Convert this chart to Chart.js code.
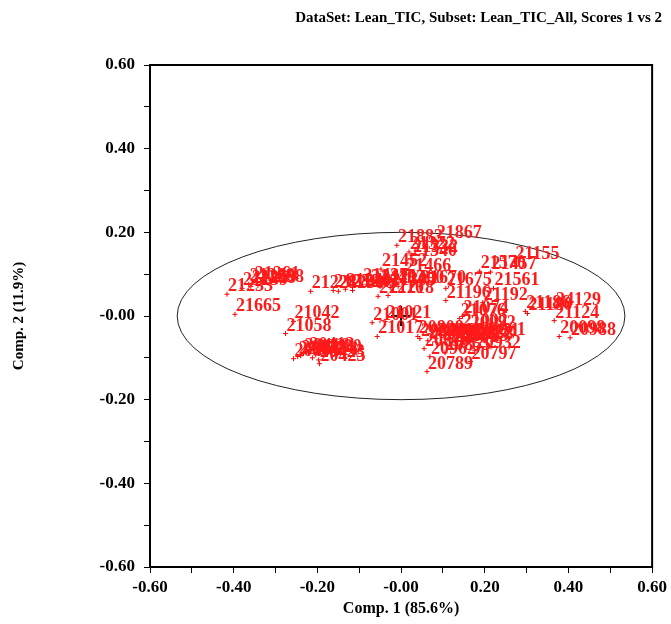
<!DOCTYPE html>
<html><head><meta charset="utf-8">
<script src="https://cdn.jsdelivr.net/npm/chart.js@4.4.0/dist/chart.umd.min.js"></script>
<style>html,body{margin:0;padding:0;background:#fff;}</style>
</head><body>
<canvas id="c" width="671" height="624"></canvas>
<script>
// ---- data ----
const sampleLabels = [
  '21883','21867','21322','21332','21340','21452','21466','21155','21570','21457',
  '21670','21675','21561','21196','21192','24129','21186','21180','21124','20098',
  '20988','21076','21074','21002','20092','20808','20800','20846','20861','20872',
  '20883','20901','20912','20925','20938','20951','20961','20932','20962','20797',
  '20789','20816','20855','21001','21021','21017','21228','21236','21238','21240',
  '21245','21437','21440','21183','21305','21400','21210','21218','21233','21239',
  '21260','21261','21258','21259','21665','21042','21058','20401','20402','20410',
  '20412','20416','20418','20420','20423','20425'
];
const comp1Scores = [
  -0.010, 0.083, 0.019, 0.026, 0.024,-0.048, 0.010, 0.271, 0.188, 0.214,
   0.045, 0.107, 0.221, 0.107, 0.195, 0.368, 0.297, 0.302, 0.366, 0.378,
   0.404, 0.140, 0.147, 0.145, 0.164, 0.040, 0.045, 0.064, 0.083, 0.097,
   0.112, 0.121, 0.135, 0.147, 0.159, 0.173, 0.188, 0.176, 0.069, 0.166,
   0.062, 0.055, 0.105,-0.069,-0.038,-0.057,-0.216,-0.162,-0.150,-0.133,
  -0.116,-0.093,-0.074,-0.050,-0.026,-0.007,-0.055,-0.031,-0.416,-0.380,
  -0.364,-0.352,-0.342,-0.359,-0.397,-0.257,-0.276,-0.257,-0.247,-0.233,
  -0.221,-0.212,-0.240,-0.204,-0.197,-0.195
];
const comp2Scores = [
   0.169, 0.179, 0.153, 0.145, 0.136, 0.112, 0.100, 0.129, 0.107, 0.105,
   0.071, 0.066, 0.066, 0.037, 0.032, 0.020, 0.011, 0.006,-0.011,-0.049,
  -0.052,-0.006,-0.001,-0.032,-0.035,-0.049,-0.054,-0.059,-0.054,-0.064,
  -0.056,-0.069,-0.059,-0.066,-0.061,-0.056,-0.052,-0.083,-0.097,-0.109,
  -0.133,-0.078,-0.088,-0.016,-0.013,-0.049, 0.059, 0.061, 0.059, 0.064,
   0.061, 0.076, 0.073, 0.071, 0.068, 0.071, 0.047, 0.049, 0.052, 0.066,
   0.076, 0.081, 0.073, 0.071, 0.004,-0.013,-0.042,-0.102,-0.097,-0.090,
  -0.088,-0.100,-0.095,-0.093,-0.105,-0.114
];
const xTickLabels = ['-0.60','-0.40','-0.20','-0.00','0.20','0.40','0.60'];
const yTickLabels = ['-0.60','-0.40','-0.20','-0.00','0.20','0.40','0.60'];
const originPoint = [0, 0];
const ellipseRadii = [0.535, 0.2];

// ---- chart ----
const FONT = '"Liberation Serif", "Times New Roman", serif';
const axisMin = -0.6, axisMax = 0.6;

function tickText(labels){
  return function(v){
    const i = Math.round((v - axisMin) * 10);
    return (i % 2 === 0) ? labels[i / 2] : '';
  };
}

const ellipsePlugin = {
  id: 'ellipse',
  beforeDatasetsDraw(chart){
    const {ctx, scales:{x, y}} = chart;
    const cx = x.getPixelForValue(originPoint[0]);
    const cy = y.getPixelForValue(originPoint[1]);
    const rx = x.getPixelForValue(originPoint[0] + ellipseRadii[0]) - cx;
    const ry = cy - y.getPixelForValue(originPoint[1] + ellipseRadii[1]);
    ctx.save();
    ctx.beginPath();
    ctx.ellipse(cx, cy, rx, ry, 0, 0, Math.PI * 2);
    ctx.strokeStyle = '#222';
    ctx.lineWidth = 1;
    ctx.stroke();
    ctx.restore();
  }
};

const labelPlugin = {
  id: 'pointLabels',
  afterDatasetsDraw(chart){
    const {ctx} = chart;
    const meta = chart.getDatasetMeta(0);
    ctx.save();
    ctx.font = 'bold 18px ' + FONT;
    ctx.fillStyle = '#ff1a1a';
    ctx.textAlign = 'left';
    ctx.textBaseline = 'alphabetic';
    meta.data.forEach((el, i) => {
      ctx.fillText(sampleLabels[i], el.x + 1, el.y - 3);
    });
    ctx.restore();
  }
};

const framePlugin = {
  id: 'frame',
  afterDraw(chart){
    const {ctx, chartArea:a} = chart;
    ctx.save();
    ctx.strokeStyle = '#000';
    ctx.lineWidth = 2;
    ctx.strokeRect(a.left, a.top, a.right - a.left, a.bottom - a.top);
    ctx.restore();
  }
};

new Chart(document.getElementById('c'), {
  type: 'scatter',
  data: {
    datasets: [
      {
        data: comp1Scores.map((v, i) => ({x: v, y: comp2Scores[i]})),
        pointStyle: 'cross',
        pointRadius: 2.5,
        pointBorderWidth: 1,
        borderColor: '#ff0000',
        backgroundColor: '#ff0000'
      },
      {
        data: [{x: originPoint[0], y: originPoint[1]}],
        pointStyle: 'cross',
        pointRadius: 10,
        pointBorderWidth: 2,
        borderColor: '#000',
        backgroundColor: '#000'
      }
    ]
  },
  options: {
    responsive: false,
    animation: false,
    devicePixelRatio: 1,
    layout: {padding: {left: 0, right: 9, top: 0, bottom: 0}},
    plugins: {
      legend: {display: false},
      tooltip: {enabled: false},
      title: {
        display: true,
        text: 'DataSet: Lean_TIC, Subset: Lean_TIC_All, Scores 1 vs 2',
        align: 'end',
        color: '#000',
        font: {family: FONT, size: 15, weight: 'bold'},
        padding: {top: 9, bottom: 38}
      }
    },
    scales: {
      x: {
        type: 'linear', min: axisMin, max: axisMax,
        afterFit(s){ s.height = 57; },
        ticks: {stepSize: 0.1, autoSkip: false, maxRotation: 0, padding: 4,
                color: '#000', font: {family: FONT, size: 17, weight: 'bold'},
                callback: tickText(xTickLabels)},
        grid: {drawOnChartArea: false, drawTicks: true, tickLength: 6, color: '#000'},
        border: {display: true, color: '#000', width: 2},
        title: {display: true, text: 'Comp. 1 (85.6%)', color: '#000',
                font: {family: FONT, size: 16, weight: 'bold'}, padding: {top: 0, bottom: 6}}
      },
      y: {
        type: 'linear', min: axisMin, max: axisMax,
        afterFit(s){ s.width = 150; },
        ticks: {stepSize: 0.1, autoSkip: false, padding: 9,
                color: '#000', font: {family: FONT, size: 17, weight: 'bold'},
                callback: tickText(yTickLabels)},
        grid: {drawOnChartArea: false, drawTicks: true, tickLength: 6, color: '#000'},
        border: {display: true, color: '#000', width: 2},
        title: {display: true, text: 'Comp. 2 (11.9%)', color: '#000',
                font: {family: FONT, size: 15, weight: 'bold'}, padding: {top: 10, bottom: 0}}
      },
      yRightSpacer: {
        type: 'linear', position: 'right', min: axisMin, max: axisMax,
        afterFit(s){ s.width = 8; },
        ticks: {display: false},
        grid: {display: false, drawTicks: false},
        border: {display: false},
        title: {display: false}
      }
    }
  },
  plugins: [ellipsePlugin, labelPlugin, framePlugin]
});
</script>
</body></html>
